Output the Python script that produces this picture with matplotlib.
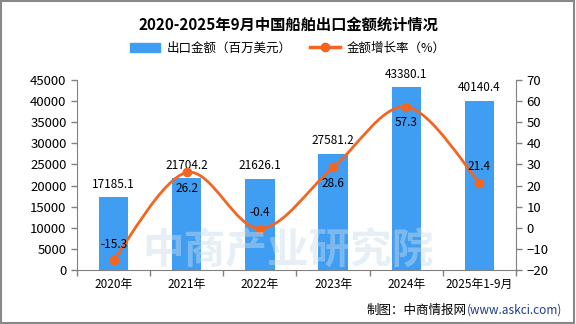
import numpy as np
import matplotlib.pyplot as plt
from matplotlib.path import Path
from matplotlib.patches import PathPatch, Rectangle, Patch
from matplotlib.lines import Line2D

plt.rcParams['font.family'] = ['Noto Sans CJK SC', 'DejaVu Sans']

years = ["2020年", "2021年", "2022年", "2023年", "2024年", "2025年1-9月"]
export_value = [17185.1, 21704.2, 21626.1, 27581.2, 43380.1, 40140.4]
growth_rate = [-15.3, 26.2, -0.4, 28.6, 57.3, 21.4]
# where the growth label sits relative to its point: 1 above, -1 below
growth_label_side = [1, -1, 1, -1, -1, 1]

bar_color = "#3f9ef2"
line_color = "#f46522"
axis_gray = "#808080"

fig = plt.figure(figsize=(5.76, 3.24), dpi=100)
ax = fig.add_axes([77/576, 1 - 270/324, 439/576, 190/324])
ax2 = ax.twinx()

x = np.arange(len(years))
ax.bar(x, export_value, width=0.4, color=bar_color, zorder=2)
ax.set_xlim(-0.5, len(years) - 0.5)
ax.set_ylim(0, 45000)
ax.set_yticks(np.arange(0, 45001, 5000))
ax2.set_ylim(-20, 70)
ax2.set_yticks(np.arange(-20, 71, 10))

for v, xi in zip(export_value, x):
    ax.text(xi, v + 1500, f"{v:.1f}", ha="center", va="bottom", fontsize=8.5)

# smooth growth curve (Catmull-Rom through the points, as cubic Bezier segments)
pts = np.column_stack([x, growth_rate]).astype(float)
verts = [tuple(pts[0])]
codes = [Path.MOVETO]
for i in range(len(pts) - 1):
    p0 = pts[i - 1] if i > 0 else pts[i]
    p1, p2 = pts[i], pts[i + 1]
    p3 = pts[i + 2] if i + 2 < len(pts) else pts[i + 1]
    c1 = p1 + (p2 - p0) / 6
    c2 = p2 - (p3 - p1) / 6
    verts += [tuple(c1), tuple(c2), tuple(p2)]
    codes += [Path.CURVE4] * 3
ax2.add_patch(PathPatch(Path(verts, codes), fill=False, ec=line_color, lw=2, zorder=3))
ax2.plot(x, growth_rate, "o", color=line_color, ms=6, zorder=4)

for xi, g, side in zip(x, growth_rate, growth_label_side):
    ax2.text(xi, g + side * 4.5, f"{g:.1f}", ha="center", va="bottom" if side > 0 else "top",
             fontsize=8.5, zorder=5)

for a in (ax, ax2):
    for s in a.spines.values():
        s.set_color(axis_gray)
    a.spines["top"].set_visible(False)
    a.tick_params(colors=axis_gray, labelcolor="black", labelsize=9.5, length=4, width=1)
ax.spines["right"].set_visible(False)
ax2.spines["left"].set_visible(False)
ax2.spines["bottom"].set_visible(False)

ax.set_xticks(np.arange(-0.5, len(years), 1))
ax.set_xticklabels([])
ax.set_xticks(x, minor=True)
ax.set_xticklabels(years, minor=True, fontsize=8.5)
ax.tick_params(axis="x", which="minor", length=0, pad=6)

# faint watermark behind the plot
fig.text(0.5, 1 - 252/324, "中商产业研究院", ha="center", va="center", fontsize=30,
         color="#c9dcea", alpha=0.45, fontweight="bold", zorder=0)

fig.text(0.5, 0.925, "2020-2025年9月中国船舶出口金额统计情况", ha="center", va="center",
         fontsize=11, fontweight="bold")

handles = [Patch(color=bar_color), Line2D([], [], color=line_color, lw=2.5, marker="o", ms=6)]
fig.legend(handles, ["出口金额（百万美元）", "金额增长率（%）"], loc="center",
           bbox_to_anchor=(0.5, 1 - 48/324), ncol=2, frameon=False, fontsize=9,
           handlelength=2.4, columnspacing=1.5, handletextpad=0.5)

fig.text(0.81, 1 - 310/324, "(www.askci.com)", ha="left", va="center", fontsize=8.5,
         color="#1f3a8a")
fig.text(0.81, 1 - 310/324, "制图：中商情报网", ha="right", va="center", fontsize=9)

fig.add_artist(Rectangle((0.002, 0.003), 0.995, 0.994, transform=fig.transFigure,
                         fill=False, ec="#888888", lw=1.5))

fig.savefig("out.png", dpi=100)
